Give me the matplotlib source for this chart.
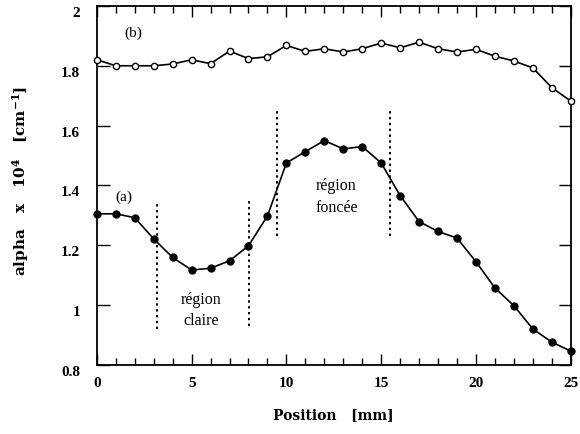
import matplotlib
matplotlib.use("Agg")
import matplotlib.pyplot as plt
import matplotlib.transforms as mtransforms
from matplotlib.ticker import MultipleLocator

# data
position = list(range(26))
alpha_a = [1.305, 1.305, 1.292, 1.221, 1.159, 1.117, 1.123, 1.148, 1.198, 1.298,
           1.475, 1.513, 1.550, 1.522, 1.530, 1.475, 1.366, 1.279, 1.246, 1.224,
           1.145, 1.057, 0.998, 0.920, 0.876, 0.846]
alpha_b = [1.820, 1.800, 1.800, 1.800, 1.806, 1.820, 1.807, 1.849, 1.824, 1.830,
           1.868, 1.848, 1.857, 1.846, 1.857, 1.876, 1.860, 1.879, 1.857, 1.846,
           1.855, 1.832, 1.816, 1.793, 1.727, 1.682]

# region boundaries: (x, y_low, y_high)
boundaries = [(3.15, 0.92, 1.34), (8.03, 0.93, 1.35),
              (9.48, 1.23, 1.65), (15.45, 1.23, 1.65)]
region_labels = [(5.5, 0.985, "région\nclaire"), (12.64, 1.365, "région\nfoncée")]
curve_labels = [(1.4, 1.363, "(a)"), (1.9, 1.913, "(b)")]

plt.rcParams["font.family"] = ["Liberation Serif", "DejaVu Serif"]
plt.rcParams["mathtext.fontset"] = "custom"
plt.rcParams["mathtext.rm"] = "DejaVu Serif:bold"
plt.rcParams["mathtext.it"] = "DejaVu Serif:bold"
plt.rcParams["mathtext.bf"] = "DejaVu Serif:bold"

fig = plt.figure(figsize=(5.8, 4.35), dpi=100)
ax = fig.add_axes([0.167, 0.159, 0.817, 0.825])

ax.plot(position, alpha_b, color="black", lw=1.2, marker="o", ms=4.5,
        mfc="white", mec="black", mew=1.0, clip_on=False, zorder=3)
ax.plot(position, alpha_a, color="black", lw=1.2, marker="o", ms=5,
        mfc="black", mec="black", clip_on=False, zorder=3)

for x, y0, y1 in boundaries:
    ax.plot([x, x], [y0, y1], color="black", lw=1.4, ls=(0, (1.2, 1.8)))

for x, y, txt in region_labels:
    ax.text(x, y, txt, ha="center", va="center", fontsize=11.5,
            linespacing=1.45)
for x, y, txt in curve_labels:
    ax.text(x, y, txt, ha="center", va="center", fontsize=11)

ax.set_xlim(0, 25)
ax.set_ylim(0.8, 2.0)
ax.xaxis.set_major_locator(MultipleLocator(5))
ax.xaxis.set_minor_locator(MultipleLocator(1))
ax.set_yticks([0.8, 1.0, 1.2, 1.4, 1.6, 1.8, 2.0])
ax.set_yticklabels(["0.8", "1", "1.2", "1.4", "1.6", "1.8", "2"])

ax.tick_params(which="both", direction="in", top=True, right=True,
               width=1.0, labelsize=11)
ax.tick_params(which="major", length=8, pad=8)
ax.tick_params(which="minor", length=5)
ax.tick_params(axis="y", which="major", length=9, pad=12)
for lab in ax.get_xticklabels() + ax.get_yticklabels():
    lab.set_fontweight("bold")
# y tick labels sit a little below their ticks in the original
shift = mtransforms.ScaledTranslation(0, -5 / 100, fig.dpi_scale_trans)
for lab in ax.get_yticklabels():
    lab.set_transform(lab.get_transform() + shift)

for sp in ax.spines.values():
    sp.set_linewidth(1.3)

ax.set_xlabel("Position   [mm]", fontsize=10, fontweight="bold",
              family="DejaVu Serif", labelpad=13)
ax.set_ylabel(r"alpha   x   10$^{4}$   [cm$^{-1}$]", fontsize=11,
              fontweight="bold", family="DejaVu Serif")
ax.yaxis.set_label_coords(-0.138, 0.515)

fig.savefig("out.png", dpi=100)
